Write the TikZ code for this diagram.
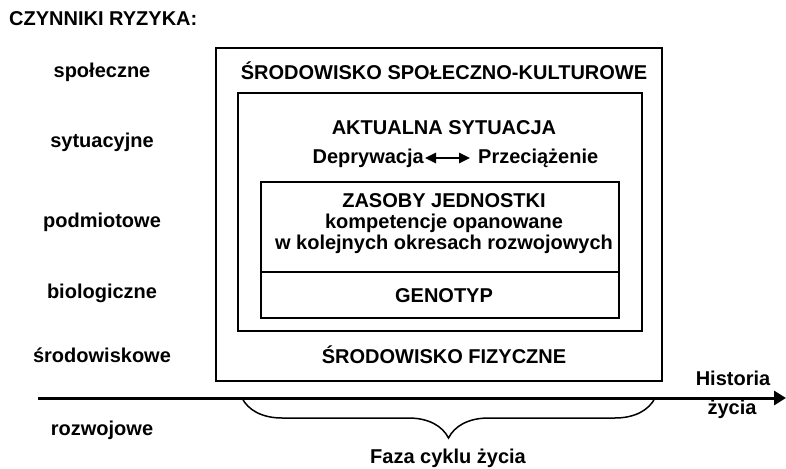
\documentclass[tikz,border=0pt]{standalone}
\usepackage{fontspec}
\setmainfont{Liberation Sans}
\usetikzlibrary{arrows.meta}
\usetikzlibrary{decorations.pathreplacing}

\begin{document}
\begin{tikzpicture}[x=1pt,y=-1pt,
        every node/.style={font=\bfseries\fontsize{20}{21}\selectfont, inner sep=1pt},
        ramka/.style={draw=black, line width=1.3pt, rectangle, minimum width=#1},
        czynnik/.style={anchor=center},
        >={Triangle[length=11pt,width=10pt]}]
        \useasboundingbox (0,0) rectangle (786,468);

        \node[anchor=west] (tytul) at (8, 19) {CZYNNIKI RYZYKA:};

        % czynniki po lewej
        \node[czynnik] (spol) at (102, 72) {społeczne};
        \node[czynnik] (syt) at (102, 142) {sytuacyjne};
        \node[czynnik] (podm) at (102, 222) {podmiotowe};
        \node[czynnik] (bio) at (102, 293) {biologiczne};
        \node[czynnik] (srod) at (102, 355) {środowiskowe};
        \node[czynnik] (rozw) at (102, 430) {rozwojowe};

        % ramki
        \node[ramka=446pt, minimum height=333pt] (zew) at (439, 214.5) {};
        \node[ramka=404pt, minimum height=238pt] (sr) at (440, 212) {};
        \node[ramka=358pt, minimum height=90pt] (zas) at (440, 227) {};
        \node[ramka=358pt, minimum height=46pt] (gen) at (440, 295) {};

        \node (SK) at (444, 71) {ŚRODOWISKO SPOŁECZNO-KULTUROWE};
        \node (AS) at (444, 128) {AKTUALNA SYTUACJA};
        \node[anchor=east, inner sep=0pt] (Dep) at (424, 158) {Deprywacja};
        \node[anchor=west, inner sep=0pt] (Prz) at (478, 158) {Przeciążenie};
        \node[align=center] (ZJ) at (444, 224) {ZASOBY JEDNOSTKI\\kompetencje opanowane\\w kolejnych okresach rozwojowych};
        \node (G) at (444, 296) {GENOTYP};
        \node (SF) at (444, 355) {ŚRODOWISKO FIZYCZNE};

        \path [<->](Dep) edge[line width=2.5pt, shorten <=1pt, shorten >=8pt] (Prz);

        % os czasu
        \coordinate (os0) at (38, 398);
        \coordinate (os1) at (786, 398);
        \draw[line width=3pt, -{Triangle[length=12pt,width=14pt]}] (os0) -- (os1);
        \node (hist) at (733, 378) {Historia};
        \node (zyc) at (732, 409) {życia};

        \coordinate (b0) at (242, 398);
        \coordinate (b1) at (655, 398);
        \draw[line width=1.5pt, decorate, decoration={brace, mirror, amplitude=40pt}] (b0) -- (b1);
        \node (faza) at (448, 458) {Faza cyklu życia};

    \end{tikzpicture}
\end{document}
